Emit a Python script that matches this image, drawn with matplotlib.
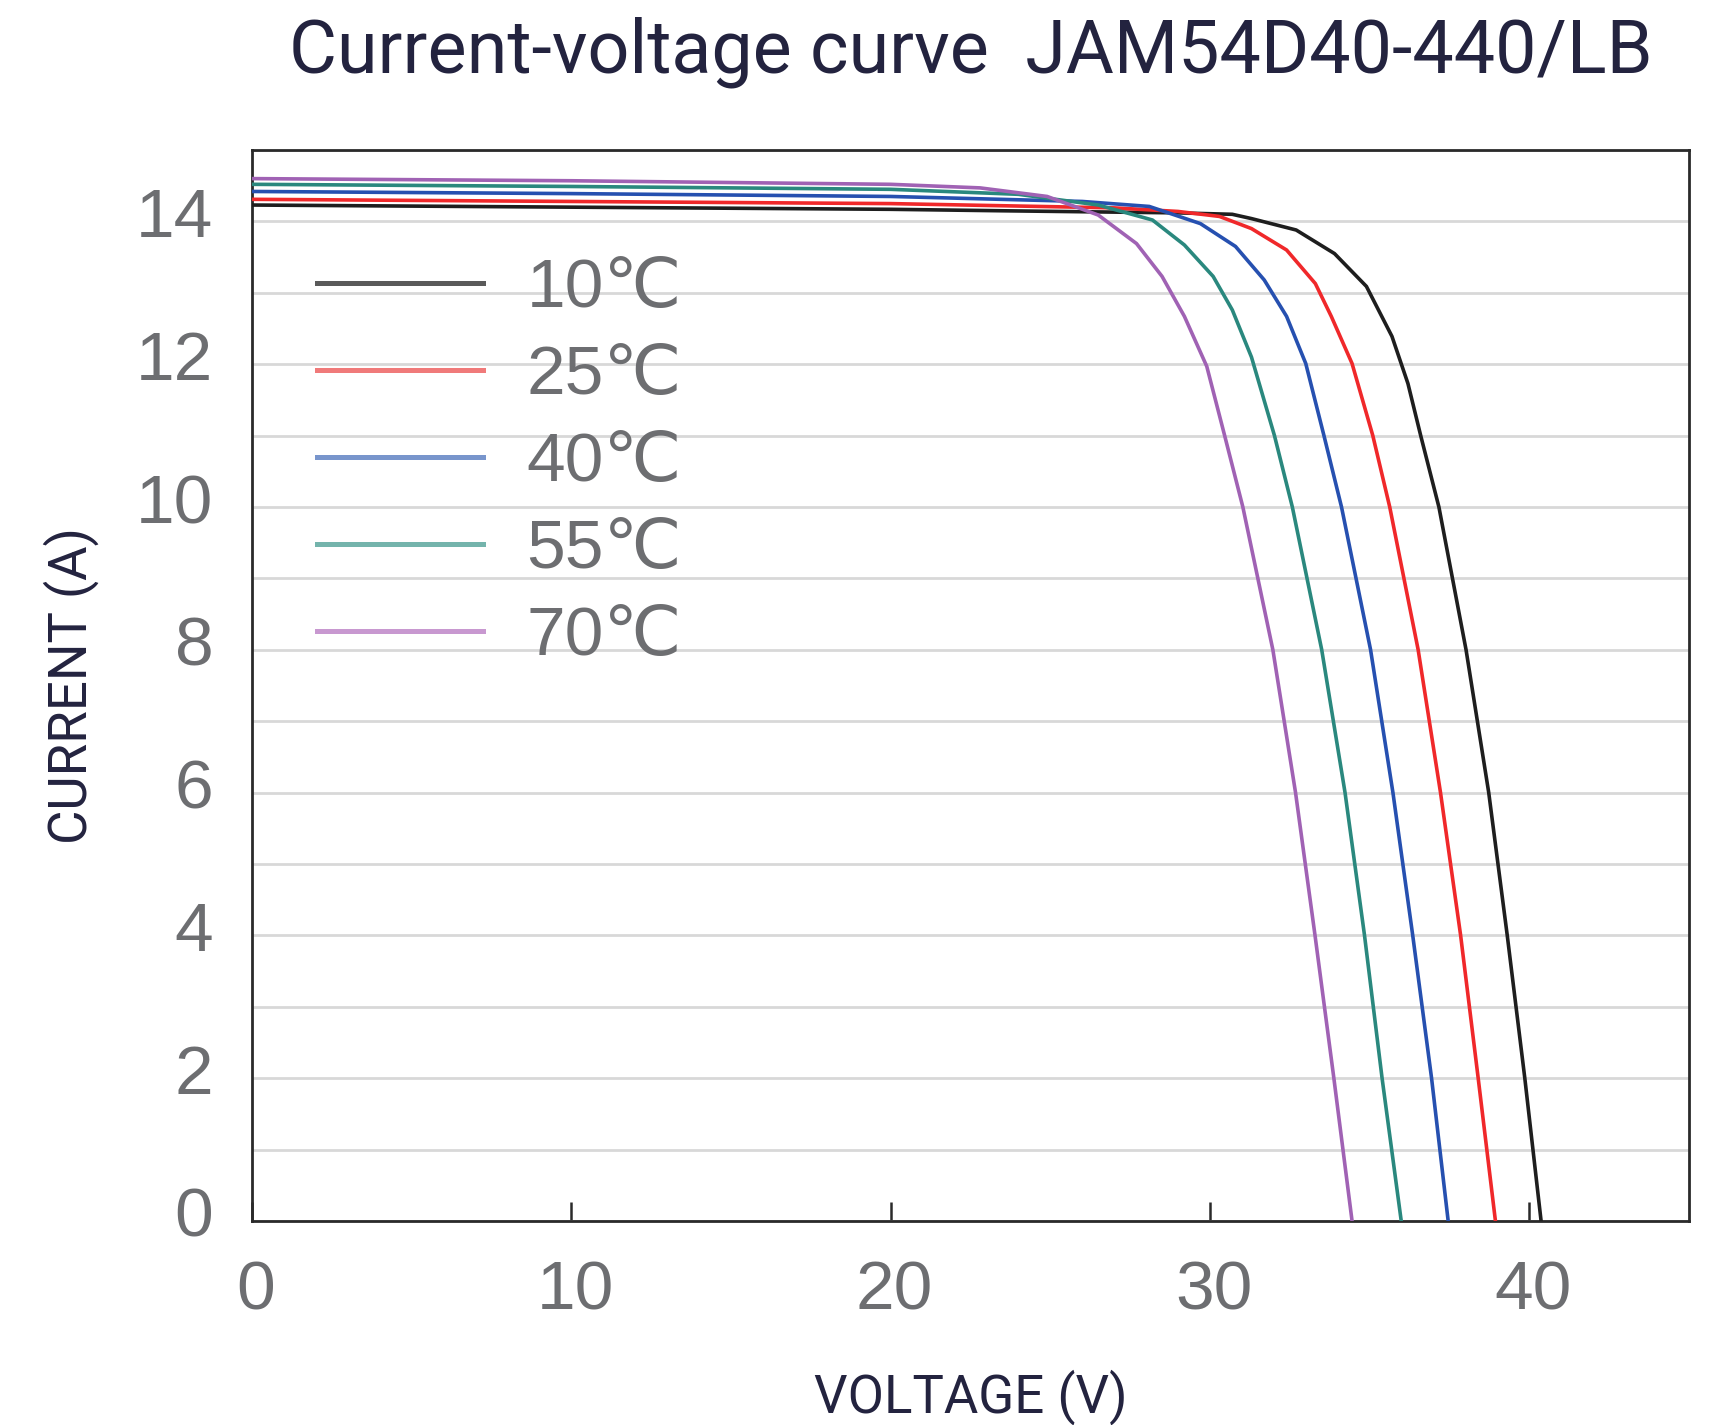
import matplotlib
matplotlib.use('Agg')
import matplotlib.pyplot as plt
from matplotlib.lines import Line2D
from matplotlib.ticker import MultipleLocator
from matplotlib.font_manager import FontProperties
import matplotlib.transforms as mtransforms

# ---- data ----
labels = ['10℃', '25℃', '40℃', '55℃', '70℃']

v_10 = [0, 10, 20, 23.4, 29.0, 30.7, 31.3, 32.7, 33.9, 34.9, 35.7, 36.2, 36.6, 37.17, 38.02, 38.73, 39.31, 39.86, 40.37]
i_10 = [14.23, 14.20, 14.17, 14.15, 14.12, 14.10, 14.04, 13.88, 13.55, 13.09, 12.39, 11.73, 11.0, 10.0, 8.0, 6.0, 4.0, 2.0, 0.0]

v_25 = [0, 10, 20, 27.0, 29.0, 30.3, 31.3, 32.4, 33.3, 33.8, 34.45, 35.1, 35.63, 36.52, 37.22, 37.85, 38.4, 38.94]
i_25 = [14.31, 14.28, 14.25, 14.19, 14.14, 14.07, 13.90, 13.60, 13.13, 12.67, 12.01, 11.0, 10.0, 8.0, 6.0, 4.0, 2.0, 0.0]

v_40 = [0, 10, 20, 26.0, 28.1, 29.7, 30.8, 31.7, 32.4, 33.0, 33.57, 34.12, 35.03, 35.73, 36.35, 36.94, 37.46]
i_40 = [14.42, 14.39, 14.35, 14.28, 14.21, 13.97, 13.65, 13.18, 12.67, 12.01, 11.0, 10.0, 8.0, 6.0, 4.0, 2.0, 0.0]

v_55 = [0, 10, 20, 24.0, 26.5, 28.2, 29.2, 30.1, 30.7, 31.3, 32.02, 32.58, 33.5, 34.23, 34.84, 35.39, 35.99]
i_55 = [14.52, 14.49, 14.45, 14.38, 14.23, 14.02, 13.67, 13.23, 12.76, 12.10, 11.0, 10.0, 8.0, 6.0, 4.0, 2.0, 0.0]

v_70 = [0, 10, 20, 22.8, 24.9, 26.5, 27.7, 28.5, 29.2, 29.9, 30.46, 31.03, 31.97, 32.68, 33.29, 33.88, 34.45]
i_70 = [14.60, 14.57, 14.52, 14.47, 14.35, 14.09, 13.69, 13.23, 12.67, 11.97, 11.0, 10.0, 8.0, 6.0, 4.0, 2.0, 0.0]

x_ticks = [0, 10, 20, 30, 40]
y_ticks = [0, 2, 4, 6, 8, 10, 12, 14]

# ---- styles ----
line_colors = ['#1e1e1e', '#f0282a', '#2650b0', '#2a887e', '#a062b4']
legend_colors = ['#5a5a5a', '#f07a7a', '#7895cc', '#74b4ac', '#c898d0']
navy = '#23233f'
tick_gray = '#6d6e71'

fig = plt.figure(figsize=(17.11, 14.25), dpi=100)
ax = fig.add_axes([0.1473, 0.1432, 0.8398, 0.7515])

series = [(v_10, i_10), (v_25, i_25), (v_40, i_40), (v_55, i_55), (v_70, i_70)]
for (v, i), c in zip(series, line_colors):
    ax.plot(v, i, color=c, lw=2.6, solid_joinstyle='round', zorder=3)

ax.set_xlim(0, 45)
ax.set_ylim(0, 15)
ax.set_xticks(x_ticks)
ax.set_yticks(y_ticks)
ax.yaxis.set_minor_locator(MultipleLocator(1))
ax.grid(axis='y', which='both', color='#d8d8d8', lw=2.0, zorder=0)
ax.set_axisbelow(True)

for s in ax.spines.values():
    s.set_color('#2a2a2a')
    s.set_linewidth(2.0)

tick_font = FontProperties(family=['Liberation Sans', 'DejaVu Sans'], size=50)
ax.tick_params(axis='x', which='major', direction='in', length=14, width=1.8,
               color='#2a2a2a', pad=28)
ax.tick_params(axis='y', which='both', length=0, pad=28)
for lab in ax.get_xticklabels() + ax.get_yticklabels():
    lab.set_fontproperties(tick_font)
    lab.set_color(tick_gray)

offset_y = mtransforms.ScaledTranslation(0, 0.09, fig.dpi_scale_trans)
for lab in ax.get_yticklabels():
    lab.set_transform(lab.get_transform() + offset_y)
offset_x = mtransforms.ScaledTranslation(0.04, 0, fig.dpi_scale_trans)
for lab in ax.get_xticklabels():
    lab.set_transform(lab.get_transform() + offset_x)

# legend
handles = [Line2D([0], [0], color=c, lw=3.6) for c in legend_colors]
leg = ax.legend(handles, labels, loc='upper left', bbox_to_anchor=(0.045, 0.90),
                frameon=False, prop=FontProperties(family=['Liberation Sans', 'DejaVu Sans'], size=50),
                handlelength=2.4, handletextpad=0.62, labelspacing=0.33,
                borderpad=0, borderaxespad=0)
for t in leg.get_texts():
    t.set_color(tick_gray)

label_font = FontProperties(family=['Roboto', 'DejaVu Sans'], size=38)
ax.set_xlabel('VOLTAGE (V)', fontproperties=label_font, color=navy)
ax.xaxis.set_label_coords(0.5, -0.165)
ax.xaxis.label.set_va('center')
ax.set_ylabel('CURRENT (A)', fontproperties=label_font, color=navy)
ax.yaxis.set_label_coords(-0.126, 0.5)
ax.yaxis.label.set_va('center')

fig.text(0.5672, 0.949, 'Current-voltage curve  JAM54D40-440/LB',
         ha='center', va='baseline', color=navy,
         fontproperties=FontProperties(family=['Roboto', 'DejaVu Sans'], size=53))

fig.savefig('out.png', dpi=100)
